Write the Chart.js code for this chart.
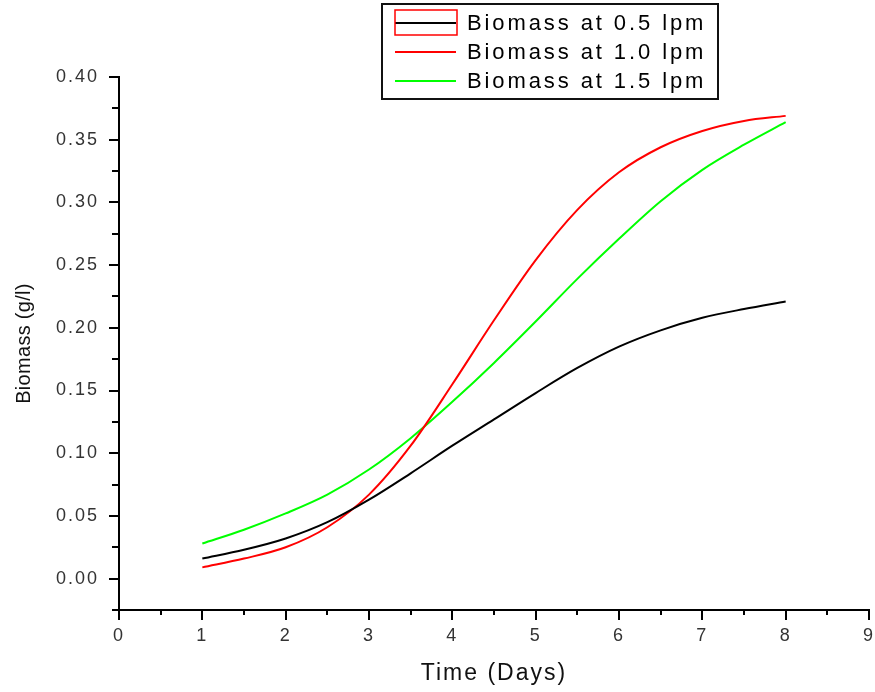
<!DOCTYPE html>
<html>
<head>
<meta charset="utf-8">
<script src="https://cdn.jsdelivr.net/npm/chart.js@4/dist/chart.umd.min.js"></script>
<style>
  html, body { margin: 0; padding: 0; background: #fff; }
  #wrap { width: 875px; height: 692px; }
</style>
</head>
<body>
<div id="wrap"><canvas id="c" width="875" height="692"></canvas></div>
<script>
// ---- data ----
const days = [1, 1.5, 2, 2.5, 3, 3.5, 4, 4.5, 5, 5.5, 6, 6.5, 7, 7.5, 8];
const biomass05 = [0.016, 0.023, 0.032, 0.045, 0.063, 0.084, 0.106, 0.127, 0.148, 0.168, 0.185, 0.198, 0.208, 0.215, 0.221];
const biomass10 = [0.009, 0.016, 0.025, 0.041, 0.067, 0.106, 0.155, 0.206, 0.254, 0.294, 0.324, 0.344, 0.357, 0.365, 0.369];
const biomass15 = [0.028, 0.039, 0.052, 0.067, 0.087, 0.112, 0.141, 0.172, 0.205, 0.239, 0.271, 0.301, 0.326, 0.346, 0.364];
const seriesLabels = ['Biomass at 0.5 lpm', 'Biomass at 1.0 lpm', 'Biomass at 1.5 lpm'];
const xTickLabels = ['0', '1', '2', '3', '4', '5', '6', '7', '8', '9'];
const yTickLabels = ['0.00', '0.05', '0.10', '0.15', '0.20', '0.25', '0.30', '0.35', '0.40'];
const xTitle = 'Time (Days)';
const yTitle = 'Biomass (g/l)';

const FONT = "'Liberation Sans', Arial, sans-serif";
const toXY = (ys) => days.map((d, i) => ({ x: d, y: ys[i] }));

// Origin-style ticks (major + minor, pointing outward) and custom legend box
const originDecor = {
  id: 'originDecor',
  beforeDraw(chart) {
    chart.ctx.letterSpacing = '2px';
  },
  afterUpdate(chart) {
    const ys = chart.scales.y;
    if (ys && !ys._patched) {
      const orig = ys.drawTitle;
      ys.drawTitle = function () {
        const ctx = this.ctx;
        ctx.save();
        ctx.letterSpacing = '0.3px';
        orig.call(this);
        ctx.restore();
      };
      ys._patched = true;
    }
  },
  afterDraw(chart) {
    const ctx = chart.ctx;
    const xs = chart.scales.x, ys = chart.scales.y;
    const ca = chart.chartArea;
    ctx.save();
    ctx.letterSpacing = '0px';
    ctx.strokeStyle = '#000';
    ctx.lineWidth = 2;
    // x ticks
    for (let v = xs.min; v <= xs.max + 1e-9; v += 0.5) {
      const px = Math.round(xs.getPixelForValue(v));
      const major = Math.abs(v - Math.round(v)) < 1e-9;
      ctx.beginPath();
      ctx.moveTo(px, ca.bottom);
      ctx.lineTo(px, ca.bottom + (major ? 10 : 5));
      ctx.stroke();
    }
    // y ticks
    for (let k = 0; k <= 17; k++) {
      const v = ys.min + k * 0.025;
      const py = Math.round(ys.getPixelForValue(v));
      const major = (k % 2) === 1;
      ctx.beginPath();
      ctx.moveTo(ca.left, py);
      ctx.lineTo(ca.left - (major ? 10 : 7), py);
      ctx.stroke();
    }
    // legend box
    const L = { x1: 382, y1: 4, x2: 718, y2: 99, sx1: 395, sx2: 456, tx: 467, rows: [23, 52, 81] };
    ctx.lineWidth = 2;
    ctx.strokeStyle = '#111';
    ctx.strokeRect(L.x1, L.y1, L.x2 - L.x1, L.y2 - L.y1);
    ctx.font = '22px ' + FONT;
    ctx.textBaseline = 'middle';
    ctx.textAlign = 'left';
    ctx.letterSpacing = '2.9px';
    chart.data.datasets.forEach((ds, i) => {
      const y = L.rows[i];
      ctx.strokeStyle = ds.borderColor;
      ctx.lineWidth = 2;
      ctx.beginPath();
      ctx.moveTo(L.sx1, y);
      ctx.lineTo(L.sx2, y);
      ctx.stroke();
      ctx.fillStyle = '#000';
      ctx.fillText(ds.label, L.tx, y + 1);
    });
    // selection frame around the first legend sample
    ctx.strokeStyle = '#ff0000';
    ctx.lineWidth = 1.5;
    ctx.strokeRect(395, 10, 62, 25);
    ctx.restore();
  }
};

new Chart(document.getElementById('c'), {
  type: 'line',
  data: {
    datasets: [
      { label: seriesLabels[0], data: toXY(biomass05), borderColor: '#000000' },
      { label: seriesLabels[1], data: toXY(biomass10), borderColor: '#ff0000' },
      { label: seriesLabels[2], data: toXY(biomass15), borderColor: '#00ff00' }
    ]
  },
  options: {
    responsive: false,
    animation: false,
    devicePixelRatio: 1,
    layout: { padding: { top: 77, right: 6, bottom: 0, left: 0 } },
    elements: {
      line: { borderWidth: 2, cubicInterpolationMode: 'monotone', fill: false },
      point: { radius: 0, hoverRadius: 0 }
    },
    plugins: {
      legend: { display: false },
      tooltip: { enabled: false },
      title: { display: false }
    },
    scales: {
      x: {
        type: 'linear',
        min: 0,
        max: 9,
        grid: { display: false, drawTicks: true, tickLength: 10 },
        border: { display: true, color: '#000', width: 2 },
        ticks: {
          stepSize: 1,
          autoSkip: false,
          maxRotation: 0,
          padding: 5,
          color: '#333',
          font: { family: FONT, size: 18 },
          callback: (v) => xTickLabels[Math.round(v)] ?? ''
        },
        title: {
          display: true,
          text: xTitle,
          color: '#111',
          font: { family: FONT, size: 23 },
          padding: { top: 0, bottom: 5 }
        },
        afterFit(scale) { scale.height = 82; scale.paddingLeft = 0; scale.paddingRight = 0; }
      },
      y: {
        type: 'linear',
        min: -0.025,
        max: 0.40,
        grid: { display: false, drawTicks: true, tickLength: 10 },
        border: { display: true, color: '#000', width: 2 },
        ticks: {
          stepSize: 0.025,
          maxTicksLimit: 100,
          autoSkip: false,
          padding: 10,
          color: '#333',
          font: { family: FONT, size: 18 },
          callback: (v) => {
            const k = Math.round(v * 1000);
            if (k < 0 || k % 50 !== 0) return '';
            return yTickLabels[k / 50] ?? '';
          }
        },
        title: {
          display: true,
          text: yTitle,
          color: '#111',
          font: { family: FONT, size: 20 },
          padding: { top: 12, bottom: 0 }
        },
        afterFit(scale) { scale.width = 119; scale.paddingTop = 0; scale.paddingBottom = 0; }
      }
    }
  },
  plugins: [originDecor]
});
</script>
</body>
</html>
